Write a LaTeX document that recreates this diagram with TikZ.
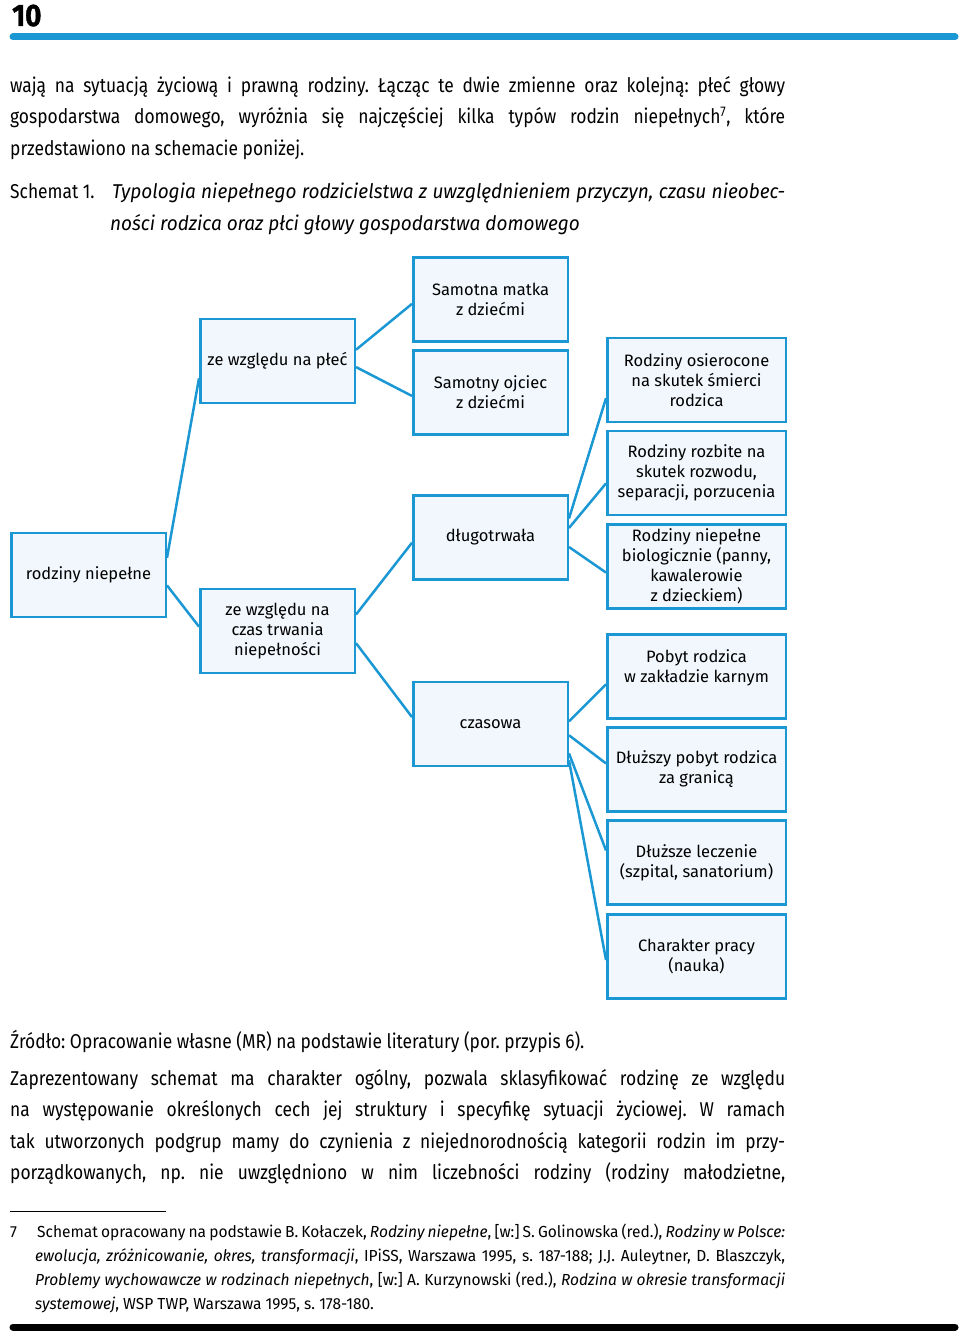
\documentclass[tikz,border=0pt]{standalone}
\usepackage{fontspec}
\setmainfont{Fira Sans}
\newfontfamily\bodyfont[FakeStretch=0.87,ItalicFeatures={FakeStretch=0.95}]{Fira Sans}
\newfontfamily\headfont[FakeStretch=0.9,BoldFeatures={FakeBold=1.2}]{Fira Sans}
\newfontfamily\notefont[FakeStretch=0.97]{Fira Sans}
\usetikzlibrary{calc}
\usetikzlibrary{positioning}
\frenchspacing

\definecolor{schemablue}{HTML}{1B98D3}
\definecolor{schemafill}{HTML}{F1F7FD}

\tikzset{
  box/.style={rectangle,minimum height=84pt,minimum width=154.5pt,inner sep=0pt,fill=schemafill,draw=schemablue,line width=2.5pt,align=center,font=\fontsize{16.5}{20}\selectfont},
  widebox/.style={box,minimum width=178.5pt},
  link/.style={draw=schemablue,line width=2.5pt},
  textline/.style={anchor=base west,inner sep=0pt,font=\bodyfont\fontsize{20}{31}\selectfont},
  noteline/.style={anchor=base west,inner sep=0pt,font=\notefont\fontsize{16}{24}\selectfont}
}

\begin{document}
\begin{tikzpicture}[x=1pt,y=-1pt]

\useasboundingbox (0,0) rectangle (960,1335);
\coordinate (LEFTCORNER) at (10,0);

%page number and head rule
\node[anchor=base west,inner sep=0pt,font=\headfont\bfseries\fontsize{31}{31}\selectfont] at ($(LEFTCORNER)+(2,26)$) (PAGENO) {10};
\draw[schemablue,line width=7pt,line cap=round] ($(LEFTCORNER)+(3,37)$) -- ++(942,0);

%%%%%%%%%%%%%%%%%%%%%

%text above the scheme
\node[textline] at ($(LEFTCORNER)+(0,93)$) (TEXT1) {\makebox[775pt][s]{wają na sytuacją życiową i prawną rodziny. Łącząc te dwie zmienne oraz kolejną: płeć głowy}};
\node[textline] at ($(LEFTCORNER)+(0,124)$) (TEXT2) {\makebox[775pt][s]{gospodarstwa domowego, wyróżnia się najczęściej kilka typów rodzin niepełnych\textsuperscript{7}, które}};
\node[textline] at ($(LEFTCORNER)+(0,155)$) (TEXT3) {przedstawiono na schemacie poniżej.};

%caption
\node[textline] at ($(LEFTCORNER)+(0,198)$) (CAPTION) {Schemat 1.};
\node[textline] at ($(LEFTCORNER)+(102,198)$) (CAPTION1) {\makebox[673pt][s]{\itshape Typologia niepełnego rodzicielstwa z uwzględnieniem przyczyn, czasu nieobec-}};
\node[textline] at ($(LEFTCORNER)+(100,230)$) (CAPTION2) {\itshape ności rodzica oraz płci głowy gospodarstwa domowego};

%%%%%%%%%%%%%%%%%%%%%

%draw boxes
\node[box] at (88.5,575) (RODZINY) {rodziny niepełne};

\node[box] at (277.5,361) (PLEC) {ze względu na płeć};
\node[box] at (277.5,631) (CZAS) {ze względu na\\czas trwania\\niepełności};

\node[box] at (490.5,299.5) (MATKA) {Samotna matka\\z dziećmi};
\node[box] at (490.5,392.5) (OJCIEC) {Samotny ojciec\\z dziećmi};
\node[box] at (490.5,537.5) (DLUGO) {długotrwała};
\node[box] at (490.5,724) (CZASOWA) {czasowa};

\node[widebox] at (696.5,380) (OSIEROCONE) {Rodziny osierocone\\na skutek śmierci\\rodzica};
\node[widebox] at (696.5,473) (ROZBITE) {Rodziny rozbite na\\skutek rozwodu,\\separacji, porzucenia};
\node[widebox] at (696.5,566.5) (BIOLOG) {Rodziny niepełne\\biologicznie (panny,\\kawalerowie\\z dzieckiem)};
\node[widebox] at (696.5,676.5) (POBYT) {Pobyt rodzica\\w zakładzie karnym\\\mbox{}};
\node[widebox] at (696.5,769.5) (GRANICA) {Dłuższy pobyt rodzica\\za granicą};
\node[widebox] at (696.5,862.5) (LECZENIE) {Dłuższe leczenie\\(szpital, sanatorium)};
\node[widebox] at (696.5,956.5) (PRACA) {Charakter pracy\\(nauka)};

%%%%%%%

%draw links between boxes
\draw[link] ($(RODZINY.north east)!0.30!(RODZINY.south east)$) -- ($(PLEC.north west)!0.70!(PLEC.south west)$);
\draw[link] ($(RODZINY.north east)!0.62!(RODZINY.south east)$) -- ($(CZAS.north west)!0.45!(CZAS.south west)$);

\draw[link] ($(PLEC.north east)!0.37!(PLEC.south east)$) -- ($(MATKA.north west)!0.55!(MATKA.south west)$);
\draw[link] ($(PLEC.north east)!0.57!(PLEC.south east)$) -- ($(OJCIEC.north west)!0.54!(OJCIEC.south west)$);

\draw[link] ($(CZAS.north east)!0.31!(CZAS.south east)$) -- ($(DLUGO.north west)!0.56!(DLUGO.south west)$);
\draw[link] ($(CZAS.north east)!0.64!(CZAS.south east)$) -- ($(CZASOWA.north west)!0.42!(CZASOWA.south west)$);

\draw[link] ($(DLUGO.north east)!0.28!(DLUGO.south east)$) -- ($(OSIEROCONE.north west)!0.71!(OSIEROCONE.south west)$);
\draw[link] ($(DLUGO.north east)!0.39!(DLUGO.south east)$) -- ($(ROZBITE.north west)!0.62!(ROZBITE.south west)$);
\draw[link] ($(DLUGO.north east)!0.61!(DLUGO.south east)$) -- ($(BIOLOG.north west)!0.57!(BIOLOG.south west)$);

\draw[link] ($(CZASOWA.north east)!0.47!(CZASOWA.south east)$) -- ($(POBYT.north west)!0.59!(POBYT.south west)$);
\draw[link] ($(CZASOWA.north east)!0.63!(CZASOWA.south east)$) -- ($(GRANICA.north west)!0.43!(GRANICA.south west)$);
\draw[link] ($(CZASOWA.north east)!0.84!(CZASOWA.south east)$) -- ($(LECZENIE.north west)!0.36!(LECZENIE.south west)$);
\draw[link] ($(CZASOWA.north east)!0.92!(CZASOWA.south east)$) -- ($(PRACA.north west)!0.54!(PRACA.south west)$);

%%%%%%%%%%%%%%%%%%%%%

%source and text below the scheme
\node[textline] at ($(LEFTCORNER)+(0,1048)$) (SOURCE) {Źródło: Opracowanie własne (MR) na podstawie literatury (por. przypis 6).};

\node[textline] at ($(LEFTCORNER)+(0,1085)$) (TEXT4) {\makebox[775pt][s]{Zaprezentowany schemat ma charakter ogólny, pozwala sklasyfikować rodzinę ze względu}};
\node[textline] at ($(LEFTCORNER)+(0,1116)$) (TEXT5) {\makebox[775pt][s]{na występowanie określonych cech jej struktury i specyfikę sytuacji życiowej. W ramach}};
\node[textline] at ($(LEFTCORNER)+(0,1148)$) (TEXT6) {\makebox[775pt][s]{tak utworzonych podgrup mamy do czynienia z niejednorodnością kategorii rodzin im przy-}};
\node[textline] at ($(LEFTCORNER)+(0,1179)$) (TEXT7) {\makebox[775pt][s]{porządkowanych, np. nie uwzględniono w nim liczebności rodziny (rodziny małodzietne,}};

%footnote
\draw[line width=0.8pt] ($(LEFTCORNER)+(0,1211)$) -- ++(156,0);
\node[noteline] at ($(LEFTCORNER)+(0,1237)$) (NOTEMARK) {7};
\node[noteline] at ($(LEFTCORNER)+(27,1237)$) (NOTE1) {\makebox[748pt][s]{Schemat opracowany na podstawie B. Kołaczek, \textit{Rodziny niepełne}, [w:] S. Golinowska (red.), \textit{Rodziny w Polsce:}}};
\node[noteline] at ($(LEFTCORNER)+(25,1261)$) (NOTE2) {\makebox[750pt][s]{\textit{ewolucja, zróżnicowanie, okres, transformacji}, IPiSS, Warszawa 1995, s. 187-188; J.J. Auleytner, D. Blaszczyk,}};
\node[noteline] at ($(LEFTCORNER)+(25,1285)$) (NOTE3) {\makebox[750pt][s]{\textit{Problemy wychowawcze w rodzinach niepełnych}, [w:] A. Kurzynowski (red.), \textit{Rodzina w okresie transformacji}}};
\node[noteline] at ($(LEFTCORNER)+(25,1309)$) (NOTE4) {\textit{systemowej}, WSP TWP, Warszawa 1995, s. 178-180.};

%foot rule
\draw[line width=7pt,line cap=round] ($(LEFTCORNER)+(3,1327)$) -- ++(942,0);

%%%%%%%%%%%%%%%%%%%%%%

\end{tikzpicture}
\end{document}
